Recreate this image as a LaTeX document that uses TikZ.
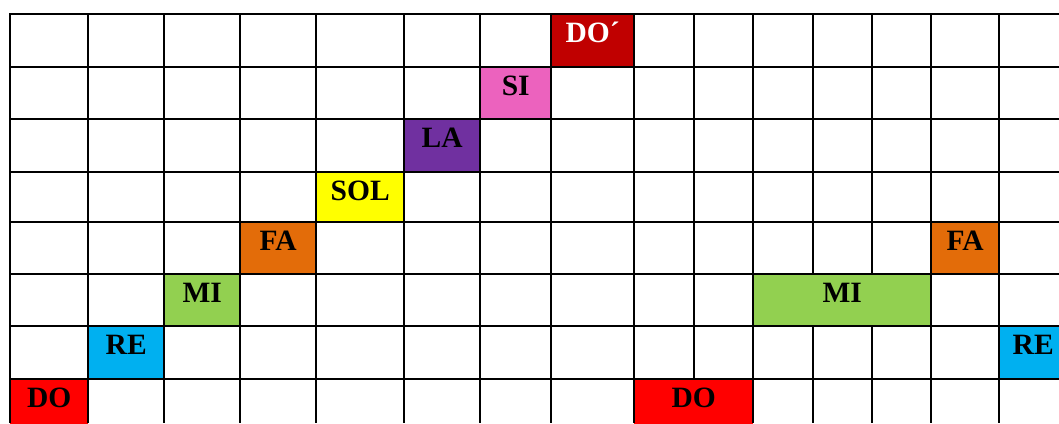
\documentclass[tikz,border=0pt]{standalone}
\usepackage{fontspec}
\setmainfont{Liberation Serif}
\usepackage{tikz}
\definecolor{DoRed}{HTML}{FF0000}
\definecolor{DoHigh}{HTML}{C00000}
\definecolor{ReBlue}{HTML}{00B0F0}
\definecolor{MiGreen}{HTML}{92D050}
\definecolor{FaOrange}{HTML}{E36C09}
\definecolor{SolYellow}{HTML}{FFFF00}
\definecolor{LaPurple}{HTML}{7030A0}
\definecolor{SiPink}{HTML}{EC62BE}

\begin{document}
\begin{tikzpicture}[
  x=1pt, y=-1pt,
  cell/.style={anchor=north west, inner sep=0pt, text height=28pt,
               font=\bfseries\fontsize{29.5}{32}\selectfont},
  grid/.style={line width=2pt, black}
]
  \useasboundingbox (0,0) rectangle (1059,423);
  \clip (0,0) rectangle (1059,423);

  % the rising scale
  \node[cell, fill=DoRed,     minimum width=78, text depth=24] (do)  at (10,379)  {DO};
  \node[cell, fill=ReBlue,    minimum width=76, text depth=25] (re)  at (88,326)  {RE};
  \node[cell, fill=MiGreen,   minimum width=76, text depth=24] (mi)  at (164,274) {MI};
  \node[cell, fill=FaOrange,  minimum width=76, text depth=24] (fa)  at (240,222) {FA};
  \node[cell, fill=SolYellow, minimum width=88, text depth=22] (sol) at (316,172) {SOL};
  \node[cell, fill=LaPurple,  minimum width=76, text depth=25] (la)  at (404,119) {LA};
  \node[cell, fill=SiPink,    minimum width=71, text depth=24] (si)  at (480,67)  {SI};
  \node[cell, fill=DoHigh, text=white, minimum width=83, text depth=25] (dohigh) at (551,14) {DO´};

  % the notes on the right
  \node[cell, fill=DoRed,    minimum width=119, text depth=24] (doR) at (634,379) {DO};
  \node[cell, fill=MiGreen,  minimum width=178, text depth=24] (miR) at (753,274) {MI};
  \node[cell, fill=FaOrange, minimum width=68,  text depth=24] (faR) at (931,222) {FA};
  \node[cell, fill=ReBlue,   minimum width=68,  text depth=25] (reR) at (999,326) {RE};

  % grid
  \foreach \y in {14,67,119,172,222,274,326,379}
    \draw[grid] (9,\y) -- (1059,\y);
  \foreach \x in {10,88,164,240,316,404,480,551,634,753,931,999}
    \draw[grid] (\x,13) -- (\x,423);
  \draw[grid] (694,13) -- (694,379);
  \foreach \x in {813,872}
    \draw[grid] (\x,13) -- (\x,274) (\x,326) -- (\x,423);
\end{tikzpicture}
\end{document}
